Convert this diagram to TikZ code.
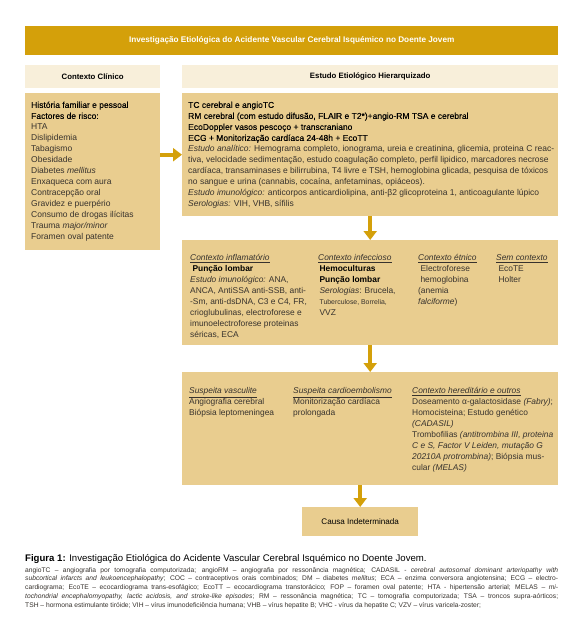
\documentclass[tikz,border=0pt]{standalone}
\usepackage{fontspec}
\setmainfont{Liberation Sans}
\newfontfamily\semib[FakeBold=0.2]{Liberation Sans}
\usetikzlibrary{arrows.meta}
\definecolor{gold}{RGB}{212,160,10}
\definecolor{hdr}{RGB}{248,239,218}
\definecolor{boxc}{RGB}{233,205,143}
\definecolor{txt}{RGB}{55,50,45}
\newcommand{\uit}[1]{\underline{\textit{#1}}}
\newcommand{\semibk}[1]{{\semib\color{black}#1}}
\newcommand{\jline}[1]{\makebox[533pt][s]{#1}}
\tikzset{
  panel/.style={fill=boxc, draw=none, anchor=north west, inner sep=0},
  headbox/.style={fill=hdr, draw=none, anchor=north west, inner sep=0, font=\fontsize{7.8}{9}\selectfont\bfseries},
  body/.style={anchor=north west, inner sep=0, align=left, font=\fontsize{8.4}{11}\selectfont, text=txt},
  garrow/.style={draw=gold, line width=4pt, -{Triangle[width=13pt,length=9pt]}},
}
\begin{document}
\begin{tikzpicture}[x=1pt,y=-1pt]
\useasboundingbox[fill=white] (0,0) rectangle (573,625);
% title
\node[fill=gold, minimum width=533pt, minimum height=29pt, anchor=north west, inner sep=0,
      text=white, font=\fontsize{8.2}{9}\selectfont\bfseries] (title) at (25,26)
  {Investigação Etiológica do Acidente Vascular Cerebral Isquémico no Doente Jovem};
% headers
\node[headbox, minimum width=135pt, minimum height=23pt] (lhead) at (25,65) {Contexto Clínico};
\node[headbox, minimum width=376pt, minimum height=23pt] (rhead) at (182,65) {Estudo Etiológico Hierarquizado};
% panels
\node[panel, minimum width=135pt, minimum height=157pt] (lbox) at (25,93) {};
\node[panel, minimum width=376pt, minimum height=123pt] (rbox) at (182,93) {};
\node[panel, minimum width=376pt, minimum height=105pt] (mbox) at (182,240) {};
\node[panel, minimum width=376pt, minimum height=113pt] (bbox) at (182,372) {};
\node[panel, minimum width=116pt, minimum height=29pt, font=\fontsize{8.1}{9}\selectfont, text=black] (causa) at (302,507) {Causa Indeterminada};
% arrows
\draw[garrow] (lbox.east |- rbox.west) -- (rbox.west);
\draw[garrow] (rbox.south) -- (mbox.north);
\draw[garrow] (mbox.south) -- (bbox.north);
\draw[garrow] (causa.north |- bbox.south) -- (causa.north);
% left text
\node[body, font=\fontsize{8.5}{11}\selectfont] (ltext) at (31,100) {\strut\semibk{História familiar e pessoal}\\
\semibk{Factores de risco:}\\
HTA\\
Dislipidemia\\
Tabagismo\\
Obesidade\\
Diabetes \textit{mellitus}\\
Enxaqueca com aura\\
Contracepção oral\\
Gravidez e puerpério\\
Consumo de drogas ilícitas\\
Trauma \textit{major/minor}\\
Foramen oval patente};
% right text
\node[body, font=\fontsize{8.5}{11}\selectfont] (rtext) at (188,100) {\strut\semibk{TC cerebral e angioTC}\\
\semibk{RM cerebral (com estudo difusão, FLAIR e T2*)+angio-RM TSA e cerebral}\\
\semibk{EcoDoppler vasos pescoço + transcraniano}\\
\semibk{ECG + Monitorização cardíaca 24-48h + EcoTT}\\
\textit{Estudo analítico:} Hemograma completo, ionograma, ureia e creatinina, glicemia, proteina C reac-\\
tiva, velocidade sedimentação, estudo coagulação completo, perfil lipidico, marcadores necrose\\
cardíaca, transaminases e bilirrubina, T4 livre e TSH, hemoglobina glicada, pesquisa de tóxicos\\
no sangue e urina (cannabis, cocaína, anfetaminas, opiáceos).\\
\textit{Estudo imunológico:} anticorpos anticardiolipina, anti-β2 glicoproteina 1, anticoagulante lúpico\\
\textit{Serologias:} VIH, VHB, sífilis};
% middle columns
\node[body] (m1) at (190,253) {\strut\uit{Contexto inflamatório}\\
\ \textbf{\color{black}Punção lombar}\\
\textit{Estudo imunológico:} ANA,\\
ANCA, AntiSSA anti-SSB, anti-\\
-Sm, anti-dsDNA, C3 e C4, FR,\\
crioglubulinas, electroforese e\\
imunoelectroforese proteinas\\
séricas, ECA};
\node[body] (m2) at (318,253) {\strut\uit{Contexto infeccioso}\\
\,\textbf{\color{black}Hemoculturas}\\
\,\textbf{\color{black}Punção lombar}\\
\,\textit{Serologias}: Brucela,\\
\,{\fontsize{6.9}{11}\selectfont Tuberculose, Borrelia,}\\
\,VVZ};
\node[body] (m3) at (418,253) {\strut\uit{Contexto étnico}\\
\ Electroforese\\
\ hemoglobina\\
(anemia\\
\textit{falciforme})};
\node[body] (m4) at (496,253) {\strut\uit{Sem contexto}\\
\ EcoTE\\
\ Holter};
% bottom columns
\node[body] (b1) at (189,386) {\strut\uit{Suspeita vasculite}\\
Angiografia cerebral\\
Biópsia leptomeningea};
\node[body] (b2) at (293,386) {\strut\uit{Suspeita cardioembolismo}\\
Monitorização cardíaca\\
prolongada};
\node[body] (b3) at (412,386) {\strut\uit{Contexto hereditário e outros}\\
Doseamento α-galactosidase \textit{(Fabry)};\\
Homocisteina; Estudo genético\\
\textit{(CADASIL)}\\
Trombofilias \textit{(antitrombina III, proteina}\\
\textit{C e S, Factor V Leiden, mutação G}\\
\textit{20210A protrombina)}; Biópsia mus-\\
cular \textit{(MELAS)}};
% caption
\node[anchor=north west, inner sep=0, align=left, font=\fontsize{9.6}{10}\selectfont, text=black] (cap) at (25,554)
  {\strut\textbf{Figura 1:} Investigação Etiológica do Acidente Vascular Cerebral Isquémico no Doente Jovem.};
\node[anchor=north west, inner sep=0, align=left, font=\fontsize{6.7}{8.7}\selectfont, text=txt] (notes) at (25,566)
  {\strut\jline{angioTC – angiografia por tomografia computorizada; angioRM – angiografia por ressonância magnética; CADASIL - \textit{cerebral autosomal dominant arteriopathy with}}\\
\jline{\textit{subcortical infarcts and leukoencephalopathy}; COC – contraceptivos orais combinados; DM – diabetes \textit{mellitus}; ECA – enzima conversora angiotensina; ECG – electro-}\\
\jline{cardiograma; EcoTE – ecocardiograma trans-esofágico; EcoTT – ecocardiograma transtorácico; FOP – foramen oval patente; HTA - hipertensão arterial; MELAS – \textit{mi-}}\\
\jline{\textit{tochondrial encephalomyopathy, lactic acidosis, and stroke-like episodes}; RM – ressonância magnética; TC – tomografia computorizada; TSA – troncos supra-aórticos;}\\
TSH – hormona estimulante tiróide; VIH – vírus imunodeficiência humana; VHB – vírus hepatite B; VHC - vírus da hepatite C; VZV – vírus varicela-zoster;};
\end{tikzpicture}
\end{document}
